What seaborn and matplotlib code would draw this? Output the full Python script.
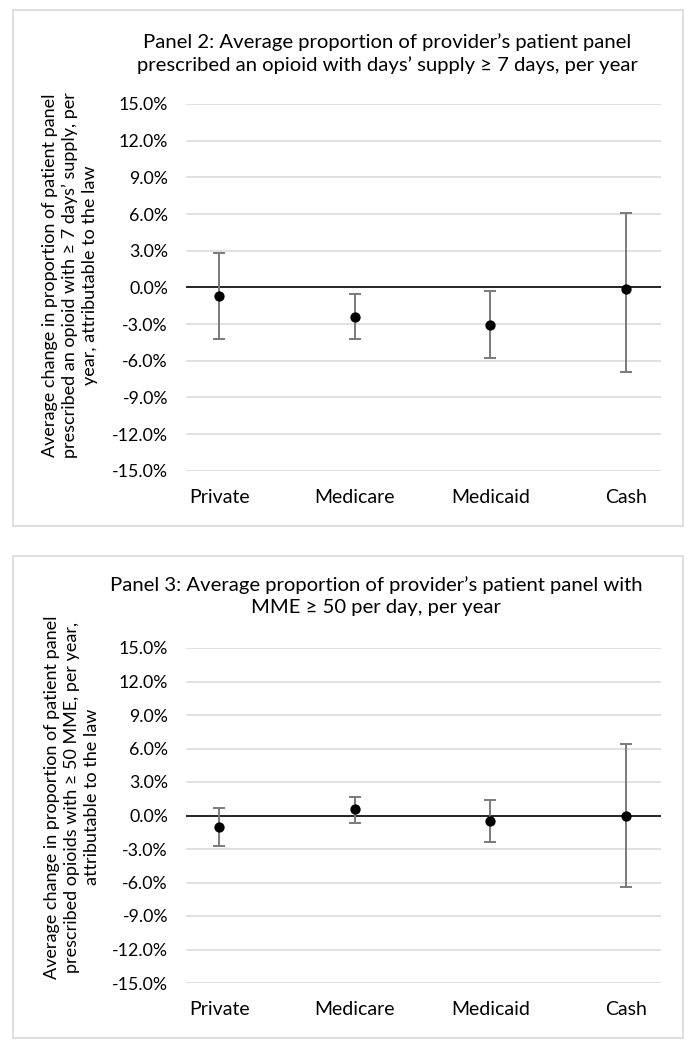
import numpy as np
import pandas as pd
import matplotlib
matplotlib.use("Agg")
import matplotlib.pyplot as plt
from matplotlib.patches import Rectangle
from matplotlib.ticker import FuncFormatter
import seaborn as sns

# ---------------- data ----------------
categories = ["Private", "Medicare", "Medicaid", "Cash"]

p2_est = [-0.71, -2.40, -3.08, -0.16]
p2_low = [-4.20, -4.25, -5.80, -6.90]
p2_high = [2.78, -0.55, -0.33, 6.05]

p3_est = [-1.01, 0.54, -0.47, 0.00]
p3_low = [-2.74, -0.68, -2.33, -6.39]
p3_high = [0.63, 1.70, 1.40, 6.42]

yticks = [-15, -12, -9, -6, -3, 0, 3, 6, 9, 12, 15]

p2_title = "Panel 2: Average proportion of provider\u2019s patient panel\nprescribed an opioid with days\u2019 supply \u2265 7 days, per year"
p3_title = "Panel 3: Average proportion of provider\u2019s patient panel with\nMME \u2265 50 per day, per year"
p2_ylabel = ("Average change in proportion of patient panel\n"
             "prescribed an opioid with \u2265 7 days\u2019 supply, per\n"
             "year, attributable to the law")
p3_ylabel = ("Average change in proportion of patient panel\n"
             "prescribed opioids with \u2265 50 MME, per year,\n"
             "attributable to the law")

# ---------------- style ----------------
sns.set_theme(style="white")
FAM = ["Lato", "DejaVu Sans"]
plt.rcParams["font.family"] = FAM
TXT = "#000000"
FS_TICK = 12.8
FS_CAT = 14
FS_TITLE = 14.6
FS_YLAB = 13

W, H = 695, 1050
fig = plt.figure(figsize=(W / 100, H / 100), dpi=100)


def fx(px):
    return px / W


def fy(py):
    return 1 - py / H


# panel borders
for (x0, y0, x1, y1) in [(12.5, 10, 683, 526), (13, 556, 683, 1038)]:
    fig.patches.append(Rectangle((fx(x0), fy(y1)), fx(x1) - fx(x0), (y1 - y0) / H,
                                 transform=fig.transFigure, fill=False,
                                 edgecolor="#d9d9d9", linewidth=1.2, zorder=0))


def draw_panel(ax_rect, est, low, high, title, title_xy, ylabel, ylabel_xy):
    left, top, right, bottom = ax_rect
    ax = fig.add_axes([fx(left), fy(bottom), fx(right) - fx(left), (bottom - top) / H])
    df = pd.DataFrame({"cat": categories, "est": est, "low": low, "high": high})
    df["cat"] = pd.Categorical(df["cat"], categories=categories, ordered=True)

    for t in yticks:
        if t != 0:
            ax.axhline(t, color="#d9d9d9", linewidth=1.1, zorder=0)
    ax.axhline(0, color="#000000", linewidth=1.2, zorder=1)

    yerr = np.vstack([df["est"] - df["low"], df["high"] - df["est"]])
    ax.errorbar(np.arange(len(categories)), df["est"], yerr=yerr, fmt="none",
                ecolor="#7a7a7a", elinewidth=1.4, capsize=4.5, capthick=1.4, zorder=2)
    sns.scatterplot(data=df, x=np.arange(len(categories)), y="est", ax=ax,
                    color="#000000", s=55, edgecolor="#000000", linewidth=0, zorder=3,
                    legend=False)

    ax.set_xlim(-0.245, 3.255)
    ax.set_ylim(-15, 15)
    ax.set_yticks(yticks)
    ax.yaxis.set_major_formatter(FuncFormatter(lambda v, p: f"{v:.1f}%"))
    ax.set_xticks(np.arange(len(categories)))
    ax.set_xticklabels(categories)
    ax.tick_params(axis="y", length=0, pad=13, labelsize=FS_TICK, labelcolor=TXT)
    ax.tick_params(axis="x", length=0, pad=13, labelsize=FS_CAT, labelcolor=TXT)
    for s in ax.spines.values():
        s.set_visible(False)
    ax.set_xlabel("")
    ax.set_ylabel("")
    ax.grid(False)

    fig.text(fx(title_xy[0]), fy(title_xy[1]), title, ha="center", va="center",
             fontsize=FS_TITLE, color=TXT, linespacing=1.35, family=FAM)
    fig.text(fx(ylabel_xy[0]), fy(ylabel_xy[1]), ylabel, ha="center", va="center",
             rotation=90, fontsize=FS_YLAB, color=TXT, linespacing=1.3,
             multialignment="center", family=FAM)
    return ax


draw_panel((186, 104, 660.6, 470.7), p2_est, p2_low, p2_high,
           p2_title, (387, 54), p2_ylabel, (70, 275))
draw_panel((186, 648, 660.6, 983), p3_est, p3_low, p3_high,
           p3_title, (376, 596), p3_ylabel, (72, 797))

fig.savefig("out.png", dpi=100, facecolor="white")
